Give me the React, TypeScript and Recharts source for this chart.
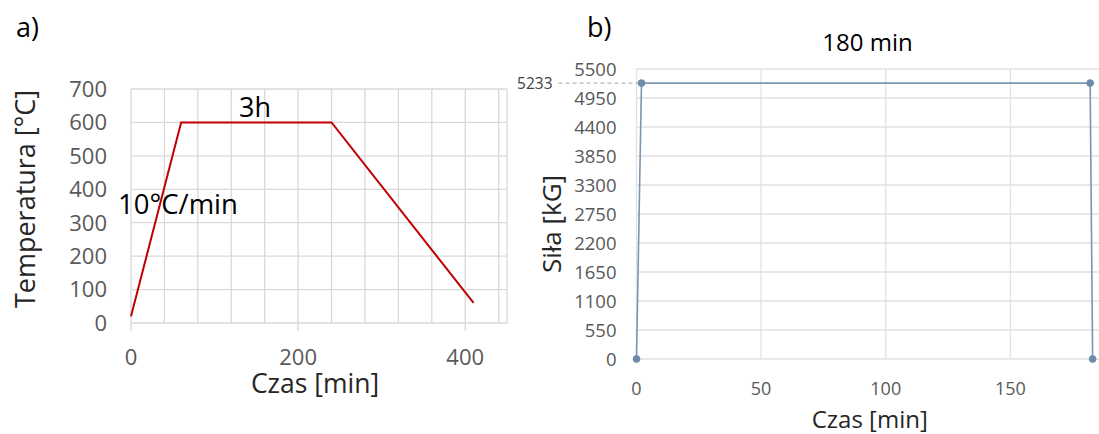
import { LineChart, Line, XAxis, YAxis, CartesianGrid, ReferenceLine } from 'recharts'

// a) temperature program
const tempTime = [0, 60, 240, 410]
const tempValue = [20, 600, 600, 60]
const tempGridX = [0, 40, 80, 120, 160, 200, 240, 280, 320, 360, 400, 440, 450]
const tempLabelX = [0, 200, 400]
const tempTicksY = [0, 100, 200, 300, 400, 500, 600, 700]

// b) force during holding
const forceTime = [0, 2, 182, 183]
const forceValue = [0, 5233, 5233, 0]
const forceTicksX = [0, 50, 100, 150]
const forceTicksY = [0, 550, 1100, 1650, 2200, 2750, 3300, 3850, 4400, 4950, 5500]
const forcePeak = 5233

const tempData = tempTime.map((t, i) => ({ t, temp: tempValue[i] }))
const forceData = forceTime.map((t, i) => ({ t, force: forceValue[i] }))

const FONT = '"Open Sans", sans-serif'
const tickGray = '#595959'
const titleColor = '#262626'

const TempTick = (p: any) => {
  if (!tempLabelX.includes(p.payload.value)) return null
  return (
    <g>
      <line x1={p.x} x2={p.x} y1={p.y} y2={p.y + 8} stroke="#d9d9d9" strokeWidth={1.3} />
      <text x={p.x} y={p.y + 26} dy="0.71em" textAnchor="middle" fontSize={22} fill={tickGray} fontFamily={FONT}>
        {p.payload.value}
      </text>
    </g>
  )
}

const PeakMarker = (p: any) => (
  <g>
    <line x1={p.x1 - 78} x2={p.x1 + 5} y1={p.y1} y2={p.y1} stroke="#a6a6a6" strokeWidth={1} strokeDasharray="4 3" />
    <text x={p.x1 - 84} y={p.y1} dy="0.35em" textAnchor="end" fontSize={15.5} fill="#404040" fontFamily={FONT}>
      {forcePeak}
    </text>
  </g>
)

const xTitle = (text: string, size: number, dx: number, dy: number) => (props: any) => {
  const vb = props.viewBox || {}
  return (
    <text x={vb.x + vb.width / 2 + dx} y={vb.y + dy} textAnchor="middle" fontSize={size} fill={titleColor} fontFamily={FONT}>
      {text}
    </text>
  )
}

const yTitle = (text: string, size: number, cx: number, dy: number) => (props: any) => {
  const vb = props.viewBox || {}
  const cy = vb.y + vb.height / 2 + dy
  const x = vb.x + cx
  return (
    <text x={x} y={cy} dy="0.35em" transform={`rotate(-90 ${x} ${cy})`} textAnchor="middle" fontSize={size} fill={titleColor} fontFamily={FONT}>
      {text}
    </text>
  )
}

export default function App() {
  return (
    <div style={{ position: 'fixed', top: 0, left: 0, width: 1099, height: 434, overflow: 'hidden', background: '#fff', fontFamily: FONT }}>
      {/* a) temperature vs time */}
      <div style={{ position: 'absolute', left: 0, top: 0 }}>
        <LineChart width={510} height={434} data={tempData} margin={{ top: 89, right: 3, bottom: 0, left: 0 }}>
          <CartesianGrid stroke="#d9d9d9" strokeWidth={1.3} />
          <XAxis
            dataKey="t"
            type="number"
            domain={[0, 450]}
            ticks={tempGridX}
            interval={0}
            height={111}
            axisLine={false}
            tickLine={false}
            tickSize={0}
            tickMargin={0}
            tick={(p: any) => <TempTick {...p} />}
            label={{ content: xTitle('Czas [min]', 26.5, -4, 70) }}
          />
          <YAxis
            type="number"
            domain={[0, 700]}
            ticks={tempTicksY}
            interval={0}
            width={131}
            axisLine={false}
            tickLine={false}
            tickSize={0}
            tickMargin={24}
            tick={{ fontSize: 22, fill: tickGray, fontFamily: FONT }}
            label={{ content: yTitle('Temperatura [°C]', 27, 26, -7) }}
          />
          <Line dataKey="temp" stroke="#c00000" strokeWidth={2} dot={false} isAnimationActive={false} />
        </LineChart>
      </div>

      {/* b) force vs time (axis runs past the right edge, as in the source figure) */}
      <div style={{ position: 'absolute', left: 510, top: 0 }}>
        <LineChart width={630} height={434} data={forceData} margin={{ top: 69, right: 5, bottom: 0, left: 0 }}>
          <CartesianGrid stroke="#e1e1e1" strokeWidth={1.3} />
          <XAxis
            dataKey="t"
            type="number"
            domain={[0, 200]}
            ticks={forceTicksX}
            interval={0}
            height={75}
            axisLine={false}
            tickLine={false}
            tickSize={0}
            tickMargin={23}
            tick={{ fontSize: 18, fill: tickGray, fontFamily: FONT }}
            label={{ content: xTitle('Czas [min]', 24, -16, 69) }}
          />
          <YAxis
            type="number"
            domain={[0, 5500]}
            ticks={forceTicksY}
            interval={0}
            width={126.5}
            axisLine={false}
            tickLine={false}
            tickSize={0}
            tickMargin={20}
            tick={{ fontSize: 18.5, fill: tickGray, fontFamily: FONT }}
            label={{ content: yTitle('Siła [kG]', 26, 42, 10) }}
          />
          <ReferenceLine y={forcePeak} ifOverflow="visible" shape={PeakMarker} />
          <Line
            dataKey="force"
            stroke="#7b95b2"
            strokeWidth={1.6}
            dot={{ r: 3.4, fill: '#6f8bab', stroke: '#6f8bab', strokeWidth: 1 }}
            isAnimationActive={false}
          />
        </LineChart>
      </div>

      {/* panel letters and annotations */}
      <svg width={1099} height={434} style={{ position: 'absolute', left: 0, top: 0, pointerEvents: 'none' }} fontFamily={FONT}>
        <text x={16} y={37} fontSize={27} fill="#000">a)</text>
        <text x={587} y={37} fontSize={27} fill="#000">b)</text>
        <text x={867.5} y={51} textAnchor="middle" fontSize={24} fill="#000">180 min</text>
        <text x={255} y={116.5} textAnchor="middle" fontSize={27} fill="#000">3h</text>
        <text x={118} y={214} fontSize={27.5} fill="#000">10°C/min</text>
      </svg>
    </div>
  )
}
